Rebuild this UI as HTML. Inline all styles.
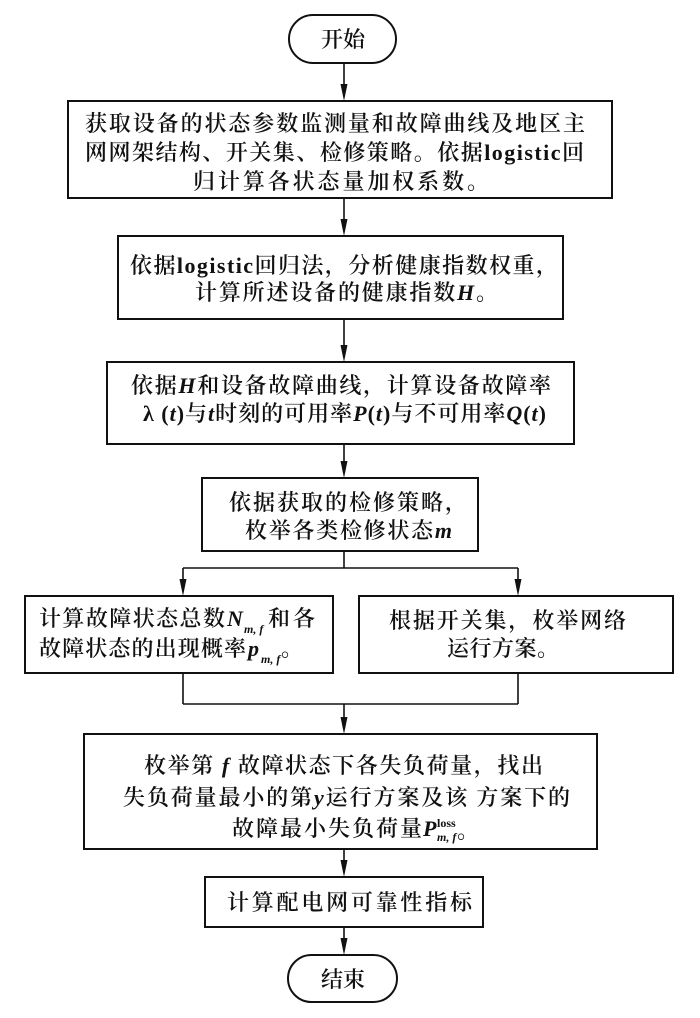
<!DOCTYPE html>
<html>
<head>
<meta charset="utf-8">
<style>
  html, body { margin:0; padding:0; background:#fff; }
  svg { display:block; }
  .t { font-family:"Liberation Serif","Noto Serif CJK SC",serif; font-size:22px; font-weight:600; fill:#111; }
  .i { font-style:italic; }
  .s { font-size:12px; font-style:italic; }
  .box { fill:#fff; stroke:#111; stroke-width:2; }
  .ln { stroke:#111; stroke-width:1.6; fill:none; }
  .ah { fill:#111; }
</style>
</head>
<body>
<svg width="700" height="1018" viewBox="0 0 700 1018" xmlns="http://www.w3.org/2000/svg">
  <rect x="0" y="0" width="700" height="1018" fill="#fff"/>

  <!-- connectors -->
  <line class="ln" x1="344" y1="63" x2="344" y2="90"/>
  <polygon class="ah" points="344,101 340.5,84 347.5,84"/>

  <line class="ln" x1="344" y1="198" x2="344" y2="226"/>
  <polygon class="ah" points="344,236 340.5,219 347.5,219"/>

  <line class="ln" x1="344" y1="319" x2="344" y2="352"/>
  <polygon class="ah" points="344,362 340.5,345 347.5,345"/>

  <line class="ln" x1="344" y1="444" x2="344" y2="468"/>
  <polygon class="ah" points="344,478 340.5,461 347.5,461"/>

  <line class="ln" x1="344" y1="551" x2="344" y2="568"/>
  <line class="ln" x1="183" y1="568" x2="518" y2="568"/>
  <line class="ln" x1="183" y1="568" x2="183" y2="586"/>
  <polygon class="ah" points="183,596 179.5,579 186.5,579"/>
  <line class="ln" x1="518" y1="568" x2="518" y2="586"/>
  <polygon class="ah" points="518,596 514.5,579 521.5,579"/>

  <line class="ln" x1="183" y1="673" x2="183" y2="704"/>
  <line class="ln" x1="518" y1="673" x2="518" y2="704"/>
  <line class="ln" x1="183" y1="704" x2="518" y2="704"/>
  <line class="ln" x1="344" y1="704" x2="344" y2="724"/>
  <polygon class="ah" points="344,734 340.5,717 347.5,717"/>

  <line class="ln" x1="344" y1="849" x2="344" y2="867"/>
  <polygon class="ah" points="344,877 340.5,860 347.5,860"/>

  <line class="ln" x1="344" y1="927" x2="344" y2="945"/>
  <polygon class="ah" points="344,955 340.5,938 347.5,938"/>

  <!-- start -->
  <rect class="box" x="289" y="15" width="107" height="48" rx="24" ry="24"/>
  <text class="t" x="343" y="47" text-anchor="middle">开始</text>

  <!-- box 1 -->
  <rect class="box" x="68" y="101" width="544" height="97"/>
  <text class="t" x="85" y="131" textLength="500" lengthAdjust="spacing">获取设备的状态参数监测量和故障曲线及地区主</text>
  <text class="t" x="85" y="160" textLength="499" lengthAdjust="spacing">网网架结构、开关集、检修策略。依据logistic回</text>
  <text class="t" x="193" y="189" textLength="296" lengthAdjust="spacing">归计算各状态量加权系数。</text>

  <!-- box 2 -->
  <rect class="box" x="118" y="236" width="445" height="83"/>
  <text class="t" x="130" y="273" textLength="428" lengthAdjust="spacing">依据logistic回归法，分析健康指数权重，</text>
  <text class="t" x="195" y="300" textLength="303" lengthAdjust="spacing">计算所述设备的健康指数<tspan class="i">H</tspan>。</text>

  <!-- box 3 -->
  <rect class="box" x="107" y="362" width="467" height="82"/>
  <text class="t" x="131" y="393" textLength="420" lengthAdjust="spacing">依据<tspan class="i">H</tspan>和设备故障曲线，计算设备故障率</text>
  <text class="t" x="143" y="421" textLength="403" lengthAdjust="spacing">λ (<tspan class="i">t</tspan>)与<tspan class="i">t</tspan>时刻的可用率<tspan class="i">P</tspan>(<tspan class="i">t</tspan>)与不可用率<tspan class="i">Q</tspan>(<tspan class="i">t</tspan>)</text>

  <!-- box 4 -->
  <rect class="box" x="202" y="478" width="276" height="73"/>
  <text class="t" x="229" y="510" textLength="238" lengthAdjust="spacing">依据获取的检修策略，</text>
  <text class="t" x="245" y="538" textLength="207" lengthAdjust="spacing">枚举各类检修状态<tspan class="i">m</tspan></text>

  <!-- box 5 left -->
  <rect class="box" x="25" y="596" width="308" height="77"/>
  <text class="t" x="39" y="626" textLength="186" lengthAdjust="spacing">计算故障状态总数</text>
  <text class="t i" x="227" y="626">N</text>
  <text class="t s" x="244" y="633">m, f</text>
  <text class="t" x="268" y="626" textLength="47" lengthAdjust="spacing">和各</text>
  <text class="t" x="39" y="656" textLength="207" lengthAdjust="spacing">故障状态的出现概率</text>
  <text class="t i" x="248" y="656">p</text>
  <text class="t s" x="261" y="663">m, f</text>
  <text class="t" x="281" y="656">。</text>

  <!-- box 5 right -->
  <rect class="box" x="359" y="596" width="314" height="77"/>
  <text class="t" x="389" y="628" textLength="237" lengthAdjust="spacing">根据开关集，枚举网络</text>
  <text class="t" x="447" y="656" textLength="112" lengthAdjust="spacing">运行方案。</text>

  <!-- box 6 -->
  <rect class="box" x="84" y="734" width="513" height="115"/>
  <text class="t" x="144" y="773" textLength="399" lengthAdjust="spacing">枚举第<tspan class="i"> f </tspan>故障状态下各失负荷量，找出</text>
  <text class="t" x="123" y="805" textLength="447" lengthAdjust="spacing">失负荷量最小的第<tspan class="i">y</tspan>运行方案及该 方案下的</text>
  <text class="t" x="232" y="836" textLength="190" lengthAdjust="spacing">故障最小失负荷量</text>
  <text class="t i" x="423" y="836">P</text>
  <text class="t" x="437" y="827" style="font-size:12px;">loss</text>
  <text class="t s" x="437" y="841">m, f</text>
  <text class="t" x="457" y="838">。</text>

  <!-- box 7 -->
  <rect class="box" x="205" y="877" width="278" height="50"/>
  <text class="t" x="227" y="910" textLength="245" lengthAdjust="spacing">计算配电网可靠性指标</text>

  <!-- end -->
  <rect class="box" x="288" y="955" width="109" height="47" rx="23.5" ry="23.5"/>
  <text class="t" x="343" y="987" text-anchor="middle">结束</text>
</svg>
</body>
</html>
